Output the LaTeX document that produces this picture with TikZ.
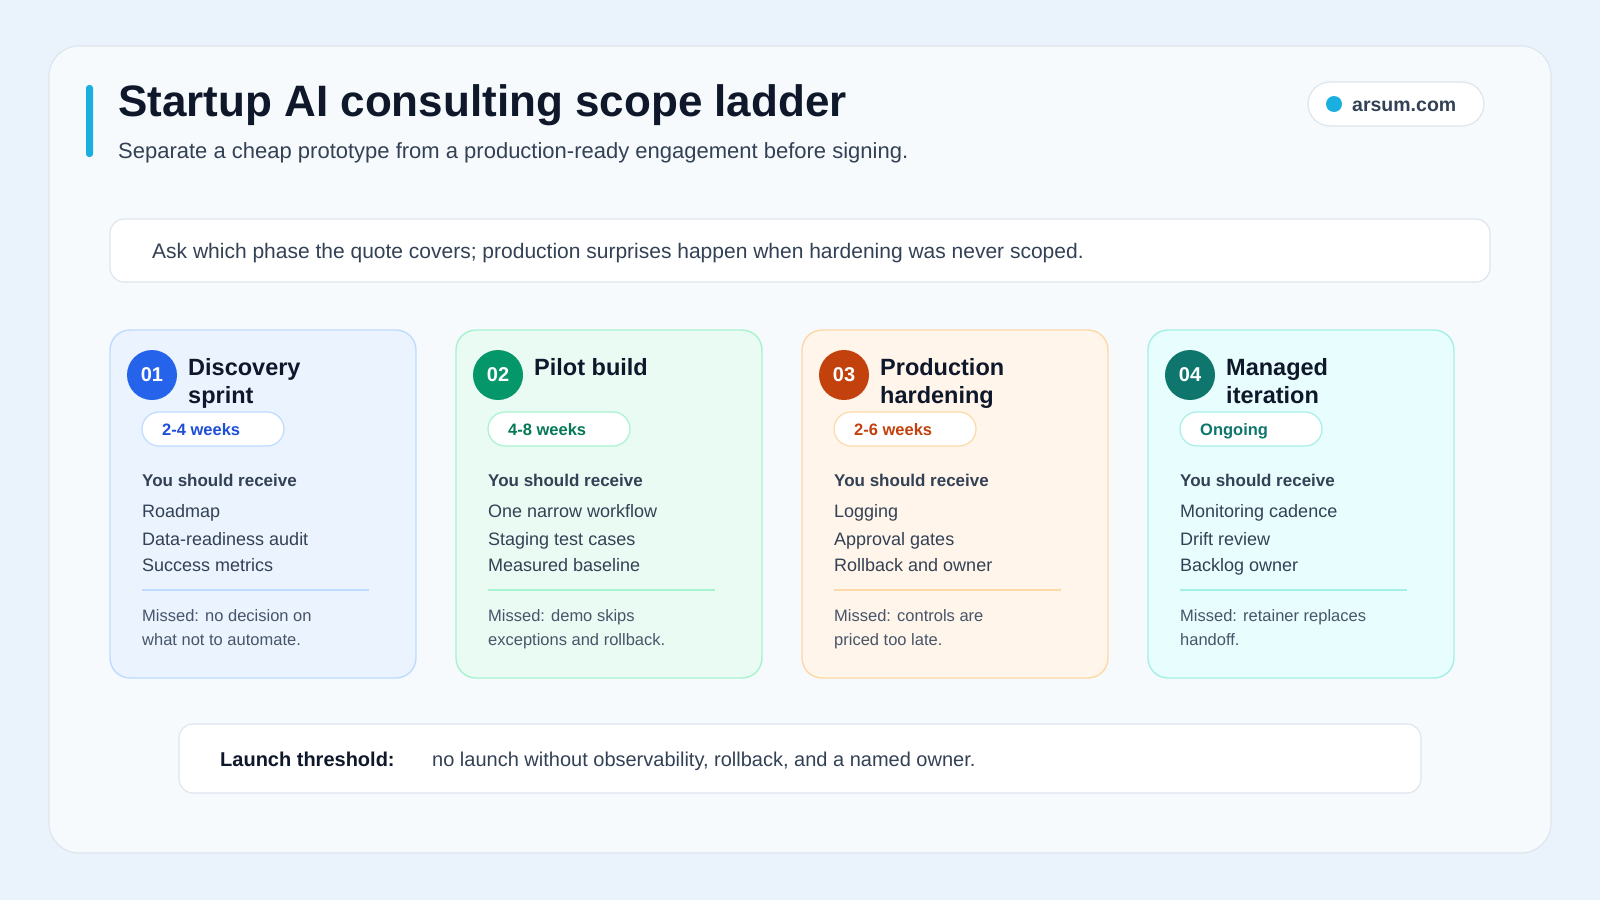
\documentclass[tikz,border=0pt]{standalone}
\usepackage{fontspec}
\setmainfont{Liberation Sans}
\definecolor{bg}{HTML}{EAF3FC}
\definecolor{panel}{HTML}{F7FAFC}
\definecolor{pline}{HTML}{DDE6EE}
\definecolor{ink}{HTML}{0F172A}
\definecolor{body}{HTML}{334155}
\definecolor{muted}{HTML}{475569}
\definecolor{accent}{HTML}{1AAFE0}
\definecolor{fA}{HTML}{EAF3FE}\definecolor{bA}{HTML}{BFDBFE}\definecolor{cA}{HTML}{2563EB}\definecolor{tA}{HTML}{1D4ED8}
\definecolor{fB}{HTML}{EAFBF3}\definecolor{bB}{HTML}{A7F3D0}\definecolor{cB}{HTML}{059669}\definecolor{tB}{HTML}{047857}
\definecolor{fC}{HTML}{FFF5EA}\definecolor{bC}{HTML}{FCD9A8}\definecolor{cC}{HTML}{C2410C}\definecolor{tC}{HTML}{C2410C}
\definecolor{fD}{HTML}{E8FDFD}\definecolor{bD}{HTML}{A5F0E6}\definecolor{cD}{HTML}{0F766E}\definecolor{tD}{HTML}{0F766E}
\tikzset{
 txt/.style={inner sep=0pt,anchor=base west},
 wbox/.style={fill=white,draw=pline,line width=1.2pt,rounded corners=14pt},
}
\newcommand{\card}[9]{%
 \begin{scope}[shift={(#1,0)}]
 \draw[fill=#2,draw=#3,line width=1.4pt,rounded corners=20pt] (0,330) rectangle (306,678);
 \node[circle,fill=#4,minimum size=50pt,inner sep=0pt,text=white,font=\bfseries\fontsize{20}{20}\selectfont] (n#6) at (42,375) {#6};
 \node[inner sep=0pt,align=left,text=ink,font=\bfseries\fontsize{23.5}{28}\selectfont,anchor=north west] (t#6) at (78,358) {#7};
 \draw[fill=white,draw=#3,line width=1.2pt,rounded corners=17pt] (32,412) rectangle (174,446);
 \node[txt,text=#5,font=\bfseries\fontsize{16.5}{16.5}\selectfont] (d#6) at (52,435) {#8};
 \node[txt,text=body,font=\bfseries\fontsize{17}{17}\selectfont] (r#6) at (32,486) {You should receive};
 \draw[#3,line width=1.6pt] (32,590) -- (259,590);
 #9
 \end{scope}}
\newcommand{\items}[5]{%
 \node[txt,text=body,font=\fontsize{18}{18}\selectfont] at (32,517) {#1};
 \node[txt,text=body,font=\fontsize{18}{18}\selectfont] at (32,545) {#2};
 \node[txt,text=body,font=\fontsize{18}{18}\selectfont] at (32,571) {#3};
 \node[txt,text=muted,font=\fontsize{16.5}{16.5}\selectfont] at (32,621) {#4};
 \node[txt,text=muted,font=\fontsize{16.5}{16.5}\selectfont] at (32,645) {#5};}
\begin{document}
\begin{tikzpicture}[x=1pt,y=-1pt]
\fill[bg] (0,0) rectangle (1600,900);
\useasboundingbox (0,0) rectangle (1600,900);
\draw[fill=panel,draw=pline,line width=1.2pt,rounded corners=30pt] (49,46) rectangle (1551,853);
\fill[accent,rounded corners=3pt] (86,85) rectangle (93,157);
\node[txt,text=ink,font=\bfseries\fontsize{44}{44}\selectfont] (title) at (118,116) {Startup AI consulting scope ladder};
\node[txt,text=body,font=\fontsize{22}{22}\selectfont] (sub) at (118,158) {Separate a cheap prototype from a production-ready engagement before signing.};
\draw[fill=white,draw=pline,line width=1.2pt,rounded corners=22pt] (1308,82) rectangle (1484,126);
\fill[accent] (1334,104) circle (8);
\node[txt,text=body,font=\bfseries\fontsize{19.5}{19.5}\selectfont] (web) at (1352,111) {arsum.com};
\draw[wbox] (110,219) rectangle (1490,282);
\node[txt,text=body,font=\fontsize{21}{21}\selectfont] (call) at (152,258) {Ask which phase the quote covers; production surprises happen when hardening was never scoped.};
\card{110}{fA}{bA}{cA}{tA}{01}{Discovery\\sprint}{2-4 weeks}{\items{Roadmap}{Data-readiness audit}{Success metrics}{Missed: no decision on}{what not to automate.}}
\card{456}{fB}{bB}{cB}{tB}{02}{Pilot build}{4-8 weeks}{\items{One narrow workflow}{Staging test cases}{Measured baseline}{Missed: demo skips}{exceptions and rollback.}}
\card{802}{fC}{bC}{cC}{tC}{03}{Production\\hardening}{2-6 weeks}{\items{Logging}{Approval gates}{Rollback and owner}{Missed: controls are}{priced too late.}}
\card{1148}{fD}{bD}{cD}{tD}{04}{Managed\\iteration}{Ongoing}{\items{Monitoring cadence}{Drift review}{Backlog owner}{Missed: retainer replaces}{handoff.}}
\draw[wbox] (179,724) rectangle (1421,793);
\node[txt,text=ink,font=\bfseries\fontsize{20}{20}\selectfont] (lt) at (220,766) {Launch threshold:};
\node[txt,text=body,font=\fontsize{20}{20}\selectfont] (ltx) at (432,766) {no launch without observability, rollback, and a named owner.};
\end{tikzpicture}
\end{document}
